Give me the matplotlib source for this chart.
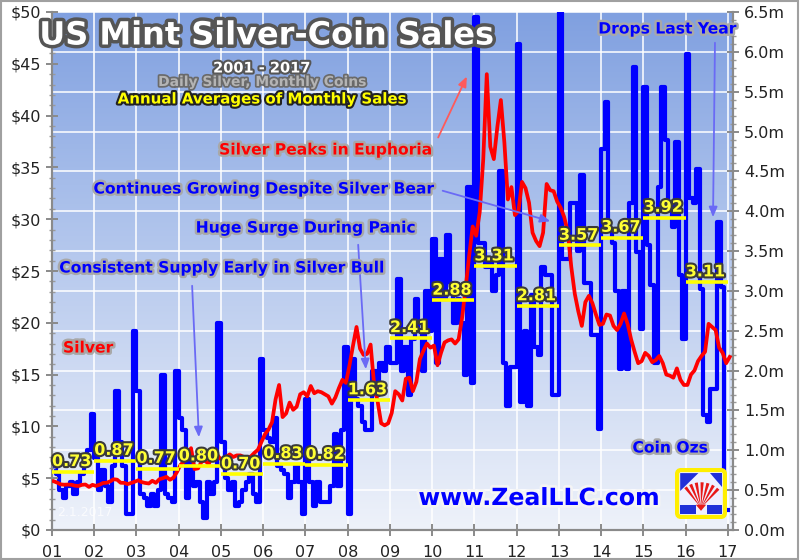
import matplotlib
matplotlib.use("Agg")
import matplotlib.pyplot as plt
import matplotlib.patheffects as pe
from matplotlib.colors import LinearSegmentedColormap
from matplotlib.patches import Rectangle, FancyBboxPatch, Wedge, Polygon
import numpy as np

# ---- data -------------------------------------------------------------
YEARS = list(range(2001, 2017))
YEAR_LABELS = ["01", "02", "03", "04", "05", "06", "07", "08", "09",
               "10", "11", "12", "13", "14", "15", "16", "17"]

# monthly US Mint silver-coin sales, millions of ozs
coins_2001 = [0.80, 0.70, 0.50, 0.40, 0.55, 0.60, 0.45, 0.60, 0.70, 0.80, 1.00, 1.45]
coins_2002 = [0.90, 0.50, 0.75, 0.55, 0.35, 0.80, 1.75, 1.10, 0.80, 0.20, 0.20, 2.50]
coins_2003 = [1.75, 0.45, 0.40, 0.30, 0.45, 0.30, 0.50, 1.95, 0.45, 0.40, 0.35, 2.00]
coins_2004 = [1.40, 1.25, 0.40, 0.85, 0.55, 0.60, 0.35, 0.15, 0.60, 0.45, 0.60, 2.60]
coins_2005 = [1.10, 0.65, 0.50, 0.60, 0.30, 0.35, 0.50, 0.60, 0.70, 0.45, 0.35, 2.15]
coins_2006 = [1.25, 1.15, 1.10, 1.40, 0.80, 0.75, 0.70, 0.40, 0.60, 0.80, 0.60, 0.20]
coins_2007 = [1.65, 0.60, 0.30, 0.60, 0.35, 0.35, 0.35, 0.55, 1.20, 0.55, 1.25, 2.30]
coins_2008 = [0.20, 2.15, 1.65, 1.55, 1.35, 1.25, 1.25, 2.00, 1.70, 2.10, 2.00, 2.30]
coins_2009 = [2.10, 2.10, 3.15, 2.00, 2.30, 1.70, 2.40, 2.90, 2.50, 2.00, 3.00, 2.50]
coins_2010 = [3.65, 2.10, 3.40, 2.90, 3.70, 3.10, 2.60, 2.90, 2.60, 1.95, 4.30, 1.85]
coins_2011 = [6.44, 3.60, 3.60, 3.30, 3.40, 3.00, 3.20, 4.50, 2.10, 1.55, 2.05, 2.05]
coins_2012 = [6.10, 1.60, 2.50, 1.55, 2.95, 2.30, 2.20, 3.30, 3.20, 3.20, 1.70, 1.70]
coins_2013 = [7.50, 3.40, 3.40, 4.10, 4.10, 3.50, 4.45, 3.10, 3.10, 2.45, 2.45, 1.27]
coins_2014 = [4.78, 5.37, 3.78, 3.60, 3.00, 2.02, 3.00, 2.02, 4.10, 5.81, 3.49, 2.52]
coins_2015 = [5.56, 3.57, 3.07, 2.10, 4.30, 5.56, 4.90, 4.10, 3.80, 4.87, 3.20, 2.40]
coins_2016 = [5.97, 4.16, 4.10, 4.53, 3.03, 1.44, 1.35, 1.77, 1.77, 3.86, 3.05, 0.25]

# annual averages of monthly sales (m ozs)
annual_avg = [0.73, 0.87, 0.77, 0.80, 0.70, 0.83, 0.82, 1.63,
              2.41, 2.88, 3.31, 2.81, 3.57, 3.67, 3.92, 3.11]

# silver price, USD/oz (monthly readings)
silver_2001 = [4.70, 4.57, 4.40, 4.37, 4.39, 4.37, 4.28, 4.24, 4.36, 4.39, 4.16, 4.36]
silver_2002 = [4.26, 4.37, 4.54, 4.56, 4.69, 4.90, 4.86, 4.56, 4.55, 4.43, 4.54, 4.66]
silver_2003 = [4.80, 4.62, 4.54, 4.49, 4.75, 4.55, 4.90, 5.00, 5.13, 4.85, 5.05, 5.60]
silver_2004 = [6.29, 6.62, 7.25, 7.90, 5.88, 5.95, 6.60, 6.70, 6.35, 7.15, 7.45, 7.00]
silver_2005 = [6.65, 7.05, 7.30, 7.05, 7.20, 7.20, 7.05, 7.00, 7.10, 7.45, 7.75, 8.50]
silver_2006 = [9.25, 9.70, 10.40, 12.60, 14.00, 10.90, 11.25, 12.30, 11.60, 11.90, 13.10, 13.30]
silver_2007 = [12.90, 13.90, 13.20, 13.40, 13.30, 13.10, 12.90, 12.20, 12.80, 13.70, 14.50, 14.20]
silver_2008 = [15.90, 17.80, 19.60, 17.50, 16.90, 17.00, 17.90, 14.00, 12.40, 10.30, 10.10, 10.30]
silver_2009 = [11.30, 13.40, 13.10, 12.50, 14.60, 14.70, 13.40, 14.30, 16.50, 17.30, 18.00, 17.60]
silver_2010 = [17.80, 15.90, 17.10, 18.10, 18.30, 18.40, 18.00, 18.40, 20.50, 23.40, 26.50, 29.30]
silver_2011 = [28.40, 30.70, 35.80, 44.00, 37.00, 35.80, 38.90, 41.50, 37.40, 31.90, 33.10, 30.40]
silver_2012 = [30.80, 33.60, 33.00, 31.60, 28.70, 27.90, 27.40, 28.70, 33.40, 32.80, 32.70, 31.70]
silver_2013 = [31.10, 30.20, 28.80, 25.40, 22.80, 21.10, 19.70, 22.00, 22.60, 21.90, 20.80, 19.80]
silver_2014 = [19.90, 20.80, 20.70, 19.70, 19.30, 19.90, 20.90, 19.90, 18.40, 17.20, 16.10, 16.30]
silver_2015 = [17.10, 16.80, 16.20, 16.40, 16.80, 16.10, 15.00, 14.90, 14.70, 15.60, 14.50, 14.00]
silver_2016 = [14.00, 15.00, 15.40, 16.30, 16.80, 17.20, 19.90, 19.60, 19.30, 17.60, 17.10, 16.10]
silver_2017 = [16.70]

coins = np.concatenate([coins_2001, coins_2002, coins_2003, coins_2004, coins_2005,
                        coins_2006, coins_2007, coins_2008, coins_2009, coins_2010,
                        coins_2011, coins_2012, coins_2013, coins_2014, coins_2015,
                        coins_2016])
silver = np.concatenate([silver_2001, silver_2002, silver_2003, silver_2004, silver_2005,
                         silver_2006, silver_2007, silver_2008, silver_2009, silver_2010,
                         silver_2011, silver_2012, silver_2013, silver_2014, silver_2015,
                         silver_2016, silver_2017])

coin_x = 2001 + np.arange(len(coins) + 1) / 12.0
coin_y = np.append(coins, coins[-1])
silver_x = 2001 + (np.arange(len(silver)) + 0.5) / 12.0

# ---- figure -----------------------------------------------------------
W, H = 800, 560
fig = plt.figure(figsize=(W / 100, H / 100), dpi=100, facecolor="white")


def fx(x):
    return x / W


def fy(y):
    return 1 - y / H


def halo(color, lw=3):
    return [pe.withStroke(linewidth=lw, foreground=color)]


L, R, T, B = 52, 733, 12, 530
ax = fig.add_axes([fx(L), fy(B), (R - L) / W, (B - T) / H])

# gradient plot background
cmap = LinearSegmentedColormap.from_list(
    "bg", ["#eef2fa", "#cbd8f2", "#a6bdea", "#80a0e0"])
grad = np.linspace(0, 1, 256).reshape(-1, 1)
ax.imshow(grad, extent=[0, 1, 0, 1], transform=ax.transAxes, origin="lower",
          aspect="auto", cmap=cmap, zorder=0)
ax.set_xlim(2001, 2017.12)
ax.set_ylim(0, 6.5)

ax.set_xticks(range(2001, 2018))
ax.set_xticklabels(YEAR_LABELS)
ax.set_yticks(np.arange(0, 6.51, 0.5))
ax.set_yticklabels([f"{v:.1f}m" for v in np.arange(0, 6.51, 0.5)])
ax.set_yticks(np.arange(0, 6.51, 0.1), minor=True)
ax.grid(True, which="major", color="white", lw=1.3, alpha=0.85, zorder=1)
ax.set_axisbelow(True)

# coin sales, monthly steps
ax.step(coin_x, coin_y, where="post", color="#0000ff", lw=3.0, zorder=3)

# silver price on twin axis
ax2 = ax.twinx()
ax2.set_ylim(0, 50)
ax2.plot(silver_x, silver, color="#ff0000", lw=2.7, zorder=4)
ax2.set_yticks(range(0, 51, 5))
ax2.set_yticklabels([f"${v}" for v in range(0, 51, 5)])
ax2.set_yticks(range(0, 51, 1), minor=True)

ax.yaxis.set_ticks_position("right")
ax.yaxis.set_label_position("right")
ax2.yaxis.set_ticks_position("left")
ax2.yaxis.set_label_position("left")

for a in (ax, ax2):
    a.spines["top"].set_visible(False)
    for s in ("left", "right", "bottom"):
        a.spines[s].set_color("#8a8a8a")
        a.spines[s].set_linewidth(1.5)
    a.tick_params(which="major", direction="inout", length=9, width=1.4,
                  color="#8a8a8a", labelsize=11.5, labelcolor="#222222")
    a.tick_params(which="minor", direction="inout", length=5, width=1.0,
                  color="#9a9a9a")
ax.tick_params(axis="x", pad=6)

# annual average bars + labels
for yr, avg in zip(YEARS, annual_avg):
    ax2.plot([yr, yr + 1], [avg, avg], color="#ffff00", lw=2.6, zorder=6,
             transform=ax.transData, solid_capstyle="butt")
    ax2.annotate(f"{avg:.2f}", xy=(yr, avg), xycoords=ax.transData,
                 xytext=(0, 2), textcoords="offset points",
                 ha="left", va="bottom", fontsize=11.5, fontweight="bold",
                 color="#ffff33", zorder=7, path_effects=halo("#3a3a3a", 3))

# ---- titles & annotations --------------------------------------------
fig.text(fx(267), fy(36), "US Mint Silver-Coin Sales", ha="center", va="center",
         fontsize=23, fontweight="bold", color="white",
         path_effects=halo("#555555", 5))
fig.text(fx(262), fy(68), "2001 - 2017", ha="center", va="center",
         fontsize=10.5, fontweight="bold", color="white",
         path_effects=halo("#555555", 3))
fig.text(fx(262), fy(82), "Daily Silver, Monthly Coins", ha="center", va="center",
         fontsize=10, fontweight="bold", color="#b4b4b4",
         path_effects=halo("#6a6a6a", 2.5))
fig.text(fx(262), fy(99), "Annual Averages of Monthly Sales", ha="center",
         va="center", fontsize=10.8, fontweight="bold", color="#ffff00",
         path_effects=halo("#222222", 3))

notes = [
    ("Silver Peaks in Euphoria", 325, 150, "#ff0000"),
    ("Continues Growing Despite Silver Bear", 263, 189, "#0000ff"),
    ("Huge Surge During Panic", 305, 228, "#0000ff"),
    ("Consistent Supply Early in Silver Bull", 221, 268, "#0000ff"),
    ("Drops Last Year", 667, 29, "#0000ff"),
    ("Silver", 88, 348, "#ff0000"),
    ("Coin Ozs", 670, 448, "#0000ff"),
]
for txt, x, y, c in notes:
    fig.text(fx(x), fy(y), txt, ha="center", va="center", fontsize=11.2,
             fontweight="bold", color=c, path_effects=halo("#a8a8a8", 3.5))

fig.text(fx(539), fy(498), "www.ZealLLC.com", ha="center", va="center",
         fontsize=17, fontweight="bold", color="#0000ff",
         path_effects=halo("#f4f4f4", 4))
fig.text(fx(85), fy(513), "2.1.2017", ha="center", va="center",
         fontsize=9, color="white", alpha=0.75)

arrows = [
    ((437, 140), (468, 74), "#ff5a5a"),
    ((440, 190), (553, 222), "#6a6af5"),
    ((358, 242), (366, 372), "#6a6af5"),
    ((192, 283), (199, 440), "#6a6af5"),
    ((715, 40), (713, 220), "#6a6af5"),
]
for (x0, y0), (x1, y1), c in arrows:
    ax2.annotate("", xy=(fx(x1), fy(y1)), xytext=(fx(x0), fy(y0)),
                 xycoords="figure fraction", textcoords="figure fraction",
                 arrowprops=dict(arrowstyle="-|>,head_length=0.6,head_width=0.25",
                                 color=c, lw=1.3), zorder=8)

# ---- logo -------------------------------------------------------------
lg = fig.add_axes([fx(675), fy(519), 52 / W, 51 / H])
lg.set_xlim(0, 1)
lg.set_ylim(0, 1)
lg.axis("off")
lg.add_patch(FancyBboxPatch((0.06, 0.06), 0.88, 0.88,
                            boxstyle="round,pad=0.02,rounding_size=0.08",
                            fc="#eef0ff", ec="#ffee00", lw=3))
lg.add_patch(Polygon([(0.1, 0.9), (0.45, 0.9), (0.1, 0.55)], fc="#2030d8"))
lg.add_patch(Polygon([(0.1, 0.1), (0.4, 0.1), (0.4, 0.28), (0.1, 0.28)], fc="#2030d8"))
lg.add_patch(Polygon([(0.62, 0.1), (0.9, 0.1), (0.9, 0.28), (0.62, 0.28)], fc="#2030d8"))
lg.add_patch(Polygon([(0.68, 0.9), (0.9, 0.9), (0.9, 0.62)], fc="#2030d8"))
for k in range(7):
    th = 45 + k * 13
    lg.add_patch(Wedge((0.5, 0.22), 0.5, th, th + 7, fc="#e81818", ec="none"))
lg.add_patch(Polygon([(0.4, 0.28), (0.6, 0.28), (0.5, 0.16)], fc="#e81818"))

# thin frame around whole image
fig.add_artist(Rectangle((0.001, 0.001), 0.997, 0.997, transform=fig.transFigure,
                         fill=False, ec="#a0a0a0", lw=1.5))

fig.savefig("out.png", dpi=100, facecolor="white")
